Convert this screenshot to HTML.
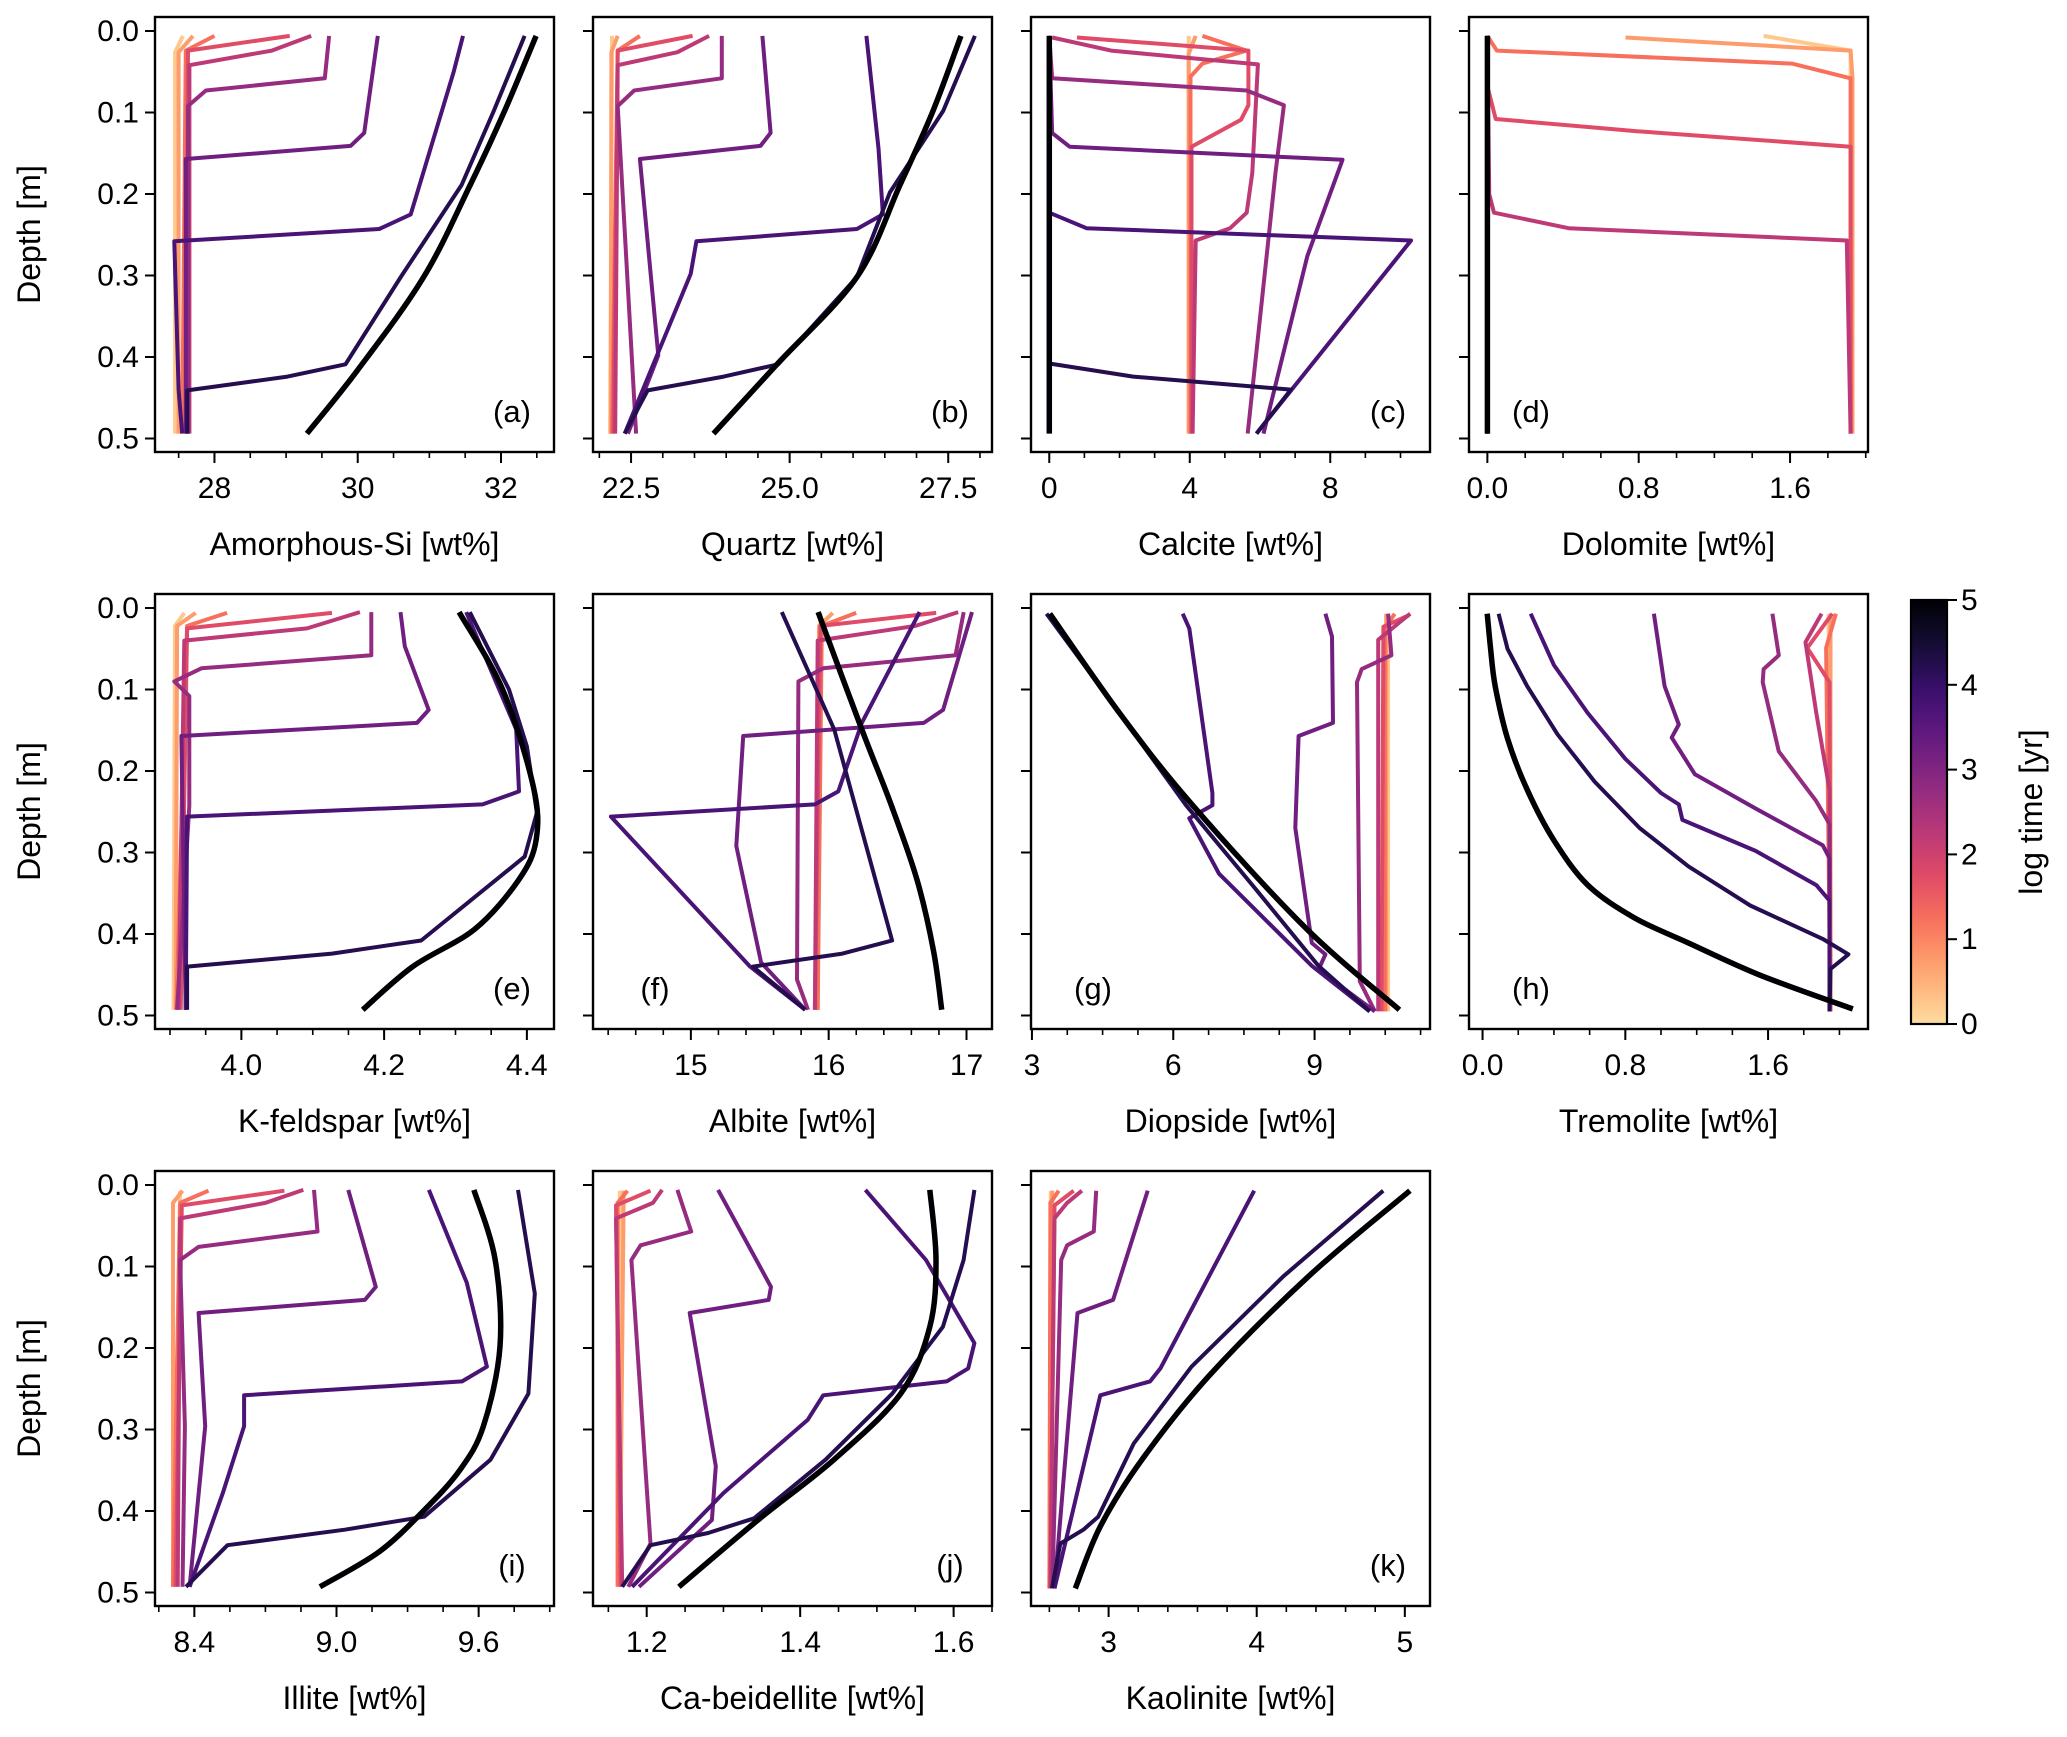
<!DOCTYPE html>
<html><head><meta charset="utf-8"><style>
html,body{margin:0;padding:0;background:#fff;}
svg text{font-family:"Liberation Sans",Arial,sans-serif;fill:#000;}
</style></head><body>
<svg id="fig" width="2067" height="1732" viewBox="0 0 2067 1732" xmlns="http://www.w3.org/2000/svg">
<defs>
<linearGradient id="cbgrad" x1="0" y1="1" x2="0" y2="0"></linearGradient>
</defs>
</svg>
<script>
// ---------- data ----------
const TIMES = [0.5,1,1.5,2,2.5,3,3.5,4,4.5,5];
const depthTicks = [0,0.1,0.2,0.3,0.4,0.5];
const depthTickLabels = ["0.0","0.1","0.2","0.3","0.4","0.5"];
const cbTicks = [0,1,2,3,4,5];

const curvesA = [
 [[27.56,0.006],[27.45,0.026],[27.45,0.494]],
 [[27.7,0.006],[27.5,0.026],[27.5,0.494]],
 [[28.0,0.006],[27.6,0.024],[27.55,0.494]],
 [[29.05,0.006],[27.63,0.024],[27.6,0.494]],
 [[29.35,0.006],[28.8,0.024],[27.65,0.042],[27.65,0.494]],
 [[29.6,0.006],[29.54,0.058],[27.88,0.073],[27.63,0.092],[27.63,0.494]],
 [[30.28,0.006],[30.09,0.125],[29.9,0.141],[27.6,0.157],[27.6,0.494]],
 [[31.47,0.006],[31.34,0.05],[30.74,0.225],[30.30,0.243],[27.44,0.258],[27.5,0.44],[27.55,0.494]],
 [[32.33,0.006],[31.9,0.098],[31.45,0.189],[30.6,0.302],[29.83,0.409],[29.02,0.424],[27.62,0.441],[27.62,0.494]],
 [[32.49,0.006],[32.05,0.098],[31.57,0.189],[30.92,0.302],[30.0,0.416],[29.29,0.494]]
];
const curvesB = [
 [[22.2,0.006],[22.17,0.494]],
 [[22.29,0.006],[22.19,0.026],[22.18,0.494]],
 [[22.64,0.006],[22.29,0.024],[22.2,0.494]],
 [[23.47,0.006],[22.29,0.024],[22.22,0.494]],
 [[23.73,0.006],[23.23,0.026],[22.29,0.042],[22.25,0.494]],
 [[23.93,0.006],[23.93,0.058],[22.55,0.073],[22.29,0.092],[22.58,0.494]],
 [[24.57,0.006],[24.70,0.125],[24.54,0.141],[22.64,0.157],[22.93,0.398],[22.45,0.494]],
 [[26.21,0.006],[26.4,0.144],[26.47,0.225],[26.06,0.243],[23.53,0.258],[23.44,0.298],[22.4,0.494]],
 [[27.92,0.006],[27.42,0.098],[26.58,0.198],[26.06,0.302],[24.82,0.409],[23.96,0.424],[22.76,0.441],[22.4,0.494]],
 [[27.7,0.006],[27.26,0.098],[26.74,0.189],[26.06,0.302],[24.8,0.409],[23.8,0.494]]
];
const curvesC = [
 [[3.97,0.006],[3.97,0.494]],
 [[4.17,0.006],[3.97,0.028],[3.97,0.494]],
 [[4.36,0.006],[5.62,0.024],[4.36,0.04],[4.02,0.056],[4.02,0.494]],
 [[0.79,0.008],[5.67,0.024],[5.67,0.091],[5.46,0.109],[4.05,0.142],[4.05,0.494]],
 [[0.08,0.008],[1.76,0.024],[5.94,0.041],[5.78,0.174],[5.62,0.223],[5.15,0.242],[4.17,0.257],[4.08,0.494]],
 [[0,0.006],[0.08,0.058],[5.62,0.073],[6.68,0.091],[6.44,0.174],[5.65,0.494]],
 [[0,0.006],[0.08,0.125],[0.58,0.142],[8.35,0.158],[7.35,0.276],[6.1,0.494]],
 [[0,0.006],[0,0.223],[1.06,0.242],[10.3,0.257],[5.9,0.494]],
 [[0,0.006],[0,0.408],[2.39,0.424],[6.88,0.44],[5.9,0.494]],
 [[0,0.006],[0,0.494]]
];
const curvesD = [
 [[1.46,0.006],[1.92,0.024],[1.92,0.06]],
 [[0.73,0.008],[1.92,0.024],[1.93,0.058],[1.93,0.494]],
 [[0,0.006],[0.05,0.024],[1.61,0.04],[1.92,0.058],[1.92,0.494]],
 [[0,0.006],[0,0.068],[0.044,0.108],[0.79,0.123],[1.92,0.142],[1.92,0.494]],
 [[0,0.006],[0.01,0.2],[0.035,0.223],[0.43,0.242],[1.9,0.257],[1.92,0.494]],
 [[0,0.006],[0,0.494]],
 [[0,0.006],[0,0.494]],
 [[0,0.006],[0,0.494]],
 [[0,0.006],[0,0.494]],
 [[0,0.006],[0,0.494]]
];
const curvesE = [
 [[3.92,0.006],[3.907,0.022],[3.905,0.493]],
 [[3.936,0.006],[3.91,0.022],[3.908,0.493]],
 [[3.98,0.006],[3.924,0.022],[3.909,0.493]],
 [[4.127,0.006],[3.924,0.025],[3.915,0.493]],
 [[4.166,0.005],[4.092,0.025],[3.92,0.04],[3.912,0.493]],
 [[4.182,0.005],[4.182,0.058],[3.944,0.074],[3.906,0.09],[3.927,0.108],[3.927,0.243],[3.91,0.493]],
 [[4.223,0.005],[4.229,0.047],[4.2625,0.125],[4.246,0.141],[3.916,0.157],[3.922,0.493]],
 [[4.315,0.005],[4.385,0.149],[4.389,0.225],[4.338,0.241],[3.924,0.256],[3.922,0.493]],
 [[4.32,0.005],[4.375,0.1],[4.4,0.17],[4.414,0.251],[4.397,0.305],[4.252,0.408],[4.127,0.424],[3.924,0.44],[3.924,0.493]],
 [[4.305,0.005],[4.366,0.1],[4.409,0.219],[4.413,0.284],[4.389,0.333],[4.327,0.394],[4.24,0.44],[4.17,0.493]]
];
const curvesF = [
 [[15.94,0.006],[15.915,0.493]],
 [[16.03,0.006],[15.93,0.022],[15.92,0.493]],
 [[16.2,0.006],[15.95,0.022],[15.92,0.493]],
 [[16.78,0.006],[15.94,0.022],[15.9,0.493]],
 [[16.94,0.005],[16.63,0.022],[15.92,0.04],[15.9,0.493]],
 [[16.98,0.005],[16.92,0.058],[15.96,0.074],[15.78,0.09],[15.77,0.456],[15.85,0.493]],
 [[17.04,0.005],[16.83,0.125],[16.69,0.141],[15.38,0.157],[15.33,0.292],[15.51,0.435],[15.83,0.493]],
 [[16.66,0.005],[16.24,0.141],[16.07,0.225],[15.9,0.241],[14.42,0.256],[15.43,0.44],[15.83,0.493]],
 [[15.66,0.005],[16.04,0.149],[16.46,0.408],[16.10,0.424],[15.45,0.44],[15.83,0.493]],
 [[15.923,0.005],[16.24,0.149],[16.45,0.24],[16.64,0.333],[16.76,0.42],[16.82,0.493]]
];
const curvesG = [
 [[10.56,0.007],[10.56,0.495]],
 [[10.52,0.007],[10.52,0.495]],
 [[10.7,0.007],[10.49,0.025],[10.49,0.495]],
 [[11.0,0.009],[10.46,0.023],[10.42,0.495]],
 [[11.03,0.007],[10.35,0.039],[10.35,0.495]],
 [[10.56,0.007],[10.63,0.058],[10.0,0.075],[9.9,0.091],[9.96,0.458],[10.28,0.495]],
 [[9.23,0.007],[9.37,0.035],[9.39,0.141],[8.66,0.157],[8.59,0.27],[8.94,0.411],[9.23,0.425],[9.08,0.444],[10.28,0.495]],
 [[6.2,0.007],[6.34,0.025],[6.83,0.227],[6.83,0.242],[6.34,0.258],[6.97,0.326],[8.94,0.439],[10.17,0.495]],
 [[3.31,0.007],[4.86,0.129],[6.27,0.242],[7.68,0.34],[9.08,0.439],[10.17,0.495]],
 [[3.38,0.007],[4.86,0.129],[6.41,0.242],[8.8,0.392],[10.8,0.493]]
];
const curvesH = [
 [[1.94,0.007],[1.944,0.495]],
 [[1.95,0.007],[1.95,0.495]],
 [[1.98,0.007],[1.925,0.049],[1.95,0.495]],
 [[1.96,0.007],[1.82,0.049],[1.944,0.091],[1.95,0.495]],
 [[1.9,0.007],[1.81,0.042],[1.87,0.129],[1.944,0.223],[1.944,0.495]],
 [[1.624,0.007],[1.66,0.058],[1.575,0.075],[1.57,0.091],[1.66,0.176],[1.87,0.237],[1.944,0.265],[1.944,0.495]],
 [[0.96,0.007],[1.02,0.096],[1.1,0.143],[1.06,0.159],[1.19,0.204],[1.53,0.246],[1.906,0.291],[1.944,0.307],[1.944,0.495]],
 [[0.27,0.007],[0.4,0.07],[0.59,0.129],[0.8,0.185],[1.0,0.227],[1.1,0.241],[1.12,0.26],[1.53,0.298],[1.87,0.34],[1.944,0.359],[1.944,0.495]],
 [[0.09,0.007],[0.14,0.05],[0.25,0.096],[0.42,0.155],[0.628,0.213],[0.88,0.27],[1.154,0.317],[1.5,0.365],[1.906,0.406],[2.05,0.425],[1.95,0.443],[1.944,0.495]],
 [[0.026,0.007],[0.045,0.05],[0.071,0.096],[0.14,0.16],[0.25,0.223],[0.4,0.285],[0.59,0.34],[0.85,0.38],[1.154,0.411],[1.55,0.45],[2.075,0.492]]
];
const curvesI = [
 [[8.34,0.007],[8.31,0.493]],
 [[8.35,0.007],[8.31,0.022],[8.31,0.493]],
 [[8.46,0.007],[8.34,0.022],[8.31,0.493]],
 [[8.78,0.007],[8.347,0.025],[8.32,0.493]],
 [[8.86,0.006],[8.7,0.022],[8.34,0.041],[8.33,0.493]],
 [[8.905,0.006],[8.92,0.057],[8.418,0.076],[8.34,0.092],[8.36,0.296],[8.35,0.493]],
 [[9.05,0.006],[9.166,0.125],[9.12,0.141],[8.418,0.157],[8.446,0.296],[8.38,0.493]],
 [[9.39,0.006],[9.55,0.12],[9.635,0.223],[9.53,0.241],[8.61,0.258],[8.61,0.296],[8.52,0.378],[8.38,0.493]],
 [[9.766,0.006],[9.837,0.133],[9.81,0.256],[9.65,0.337],[9.37,0.407],[9.035,0.423],[8.54,0.442],[8.365,0.493]],
 [[9.58,0.006],[9.67,0.092],[9.69,0.198],[9.62,0.296],[9.52,0.35],[9.37,0.399],[9.18,0.45],[8.93,0.493]]
];
const curvesJ = [
 [[1.165,0.007],[1.163,0.493]],
 [[1.17,0.007],[1.165,0.493]],
 [[1.175,0.007],[1.162,0.022],[1.162,0.493]],
 [[1.205,0.007],[1.16,0.025],[1.166,0.493]],
 [[1.22,0.006],[1.208,0.022],[1.16,0.041],[1.168,0.493]],
 [[1.24,0.006],[1.258,0.057],[1.192,0.074],[1.18,0.092],[1.205,0.44],[1.176,0.493]],
 [[1.293,0.006],[1.362,0.125],[1.359,0.141],[1.256,0.157],[1.29,0.345],[1.285,0.411],[1.19,0.493]],
 [[1.485,0.006],[1.564,0.092],[1.627,0.194],[1.619,0.225],[1.591,0.241],[1.43,0.258],[1.41,0.288],[1.30,0.378],[1.181,0.493]],
 [[1.627,0.006],[1.613,0.092],[1.586,0.174],[1.52,0.256],[1.433,0.337],[1.34,0.409],[1.28,0.427],[1.205,0.442],[1.168,0.493]],
 [[1.569,0.006],[1.577,0.092],[1.569,0.174],[1.531,0.256],[1.444,0.337],[1.345,0.411],[1.242,0.493]]
];
const curvesK = [
 [[2.61,0.007],[2.6,0.495]],
 [[2.62,0.007],[2.6,0.495]],
 [[2.663,0.007],[2.607,0.022],[2.6,0.495]],
 [[2.764,0.007],[2.635,0.025],[2.607,0.495]],
 [[2.82,0.007],[2.72,0.022],[2.635,0.041],[2.607,0.495]],
 [[2.916,0.007],[2.9,0.057],[2.72,0.074],[2.68,0.092],[2.62,0.495]],
 [[3.264,0.007],[3.03,0.141],[2.79,0.157],[2.635,0.495]],
 [[3.983,0.007],[3.35,0.225],[3.28,0.241],[2.944,0.258],[2.635,0.495]],
 [[4.854,0.007],[4.18,0.112],[3.56,0.223],[3.17,0.317],[2.93,0.407],[2.83,0.423],[2.674,0.44],[2.618,0.495]],
 [[5.034,0.007],[4.35,0.112],[3.674,0.235],[3.225,0.337],[2.944,0.419],[2.775,0.495]]
];

const ticksA=[28,30,32], labelsA=["28","30","32"];
const ticksB=[22.5,25,27.5], labelsB=["22.5","25.0","27.5"];
const ticksC=[0,4,8], labelsC=["0","4","8"];
const ticksD=[0,0.8,1.6], labelsD=["0.0","0.8","1.6"];
const ticksE=[4.0,4.2,4.4], labelsE=["4.0","4.2","4.4"];
const ticksF=[15,16,17], labelsF=["15","16","17"];
const ticksG=[3,6,9], labelsG=["3","6","9"];
const ticksH=[0,0.8,1.6], labelsH=["0.0","0.8","1.6"];
const ticksI=[8.4,9.0,9.6], labelsI=["8.4","9.0","9.6"];
const ticksJ=[1.2,1.4,1.6], labelsJ=["1.2","1.4","1.6"];
const ticksK=[3,4,5], labelsK=["3","4","5"];

// ---------- layout ----------
const PW=399, PH=435;
const colL=[155,593,1031,1469], rowT=[17,594,1171];
const panels=[
 {id:"a",c:0,r:0,x0:27.17,x1:32.74,mn:0.5,t:ticksA,l:labelsA,name:"Amorphous-Si [wt%]",cv:curvesA,lp:"r"},
 {id:"b",c:1,r:0,x0:21.9,x1:28.19,mn:0.5,t:ticksB,l:labelsB,name:"Quartz [wt%]",cv:curvesB,lp:"r"},
 {id:"c",c:2,r:0,x0:-0.52,x1:10.84,mn:1,t:ticksC,l:labelsC,name:"Calcite [wt%]",cv:curvesC,lp:"r"},
 {id:"d",c:3,r:0,x0:-0.097,x1:2.012,mn:0.2,t:ticksD,l:labelsD,name:"Dolomite [wt%]",cv:curvesD,lp:"l"},
 {id:"e",c:0,r:1,x0:3.879,x1:4.438,mn:0.05,t:ticksE,l:labelsE,name:"K-feldspar [wt%]",cv:curvesE,lp:"r"},
 {id:"f",c:1,r:1,x0:14.29,x1:17.185,mn:0.2,t:ticksF,l:labelsF,name:"Albite [wt%]",cv:curvesF,lp:"l"},
 {id:"g",c:2,r:1,x0:2.98,x1:11.45,mn:0.75,t:ticksG,l:labelsG,name:"Diopside [wt%]",cv:curvesG,lp:"l"},
 {id:"h",c:3,r:1,x0:-0.076,x1:2.16,mn:0.2,t:ticksH,l:labelsH,name:"Tremolite [wt%]",cv:curvesH,lp:"l"},
 {id:"i",c:0,r:2,x0:8.234,x1:9.918,mn:0.15,t:ticksI,l:labelsI,name:"Illite [wt%]",cv:curvesI,lp:"r"},
 {id:"j",c:1,r:2,x0:1.13,x1:1.65,mn:0.05,t:ticksJ,l:labelsJ,name:"Ca-beidellite [wt%]",cv:curvesJ,lp:"r"},
 {id:"k",c:2,r:2,x0:2.476,x1:5.17,mn:0.2,t:ticksK,l:labelsK,name:"Kaolinite [wt%]",cv:curvesK,lp:"r"}
];

const MAGMA=[[0,"#000004"],[0.1,"#140e36"],[0.2,"#3b0f70"],[0.3,"#641a80"],[0.4,"#8c2981"],[0.5,"#b73779"],[0.6,"#de4968"],[0.7,"#f7705c"],[0.8,"#fe9f6d"],[0.9,"#fecf92"],[1,"#fcfdbf"]];
function hex2rgb(h){return [1,3,5].map(i=>parseInt(h.substr(i,2),16));}
function magma(f){
 f=Math.max(0,Math.min(1,f));
 for(let i=1;i<MAGMA.length;i++){ if(f<=MAGMA[i][0]){const a=MAGMA[i-1],b=MAGMA[i];const u=(f-a[0])/(b[0]-a[0]);const ca=hex2rgb(a[1]),cb=hex2rgb(b[1]);return "rgb("+ca.map((v,k)=>Math.round(v+(cb[k]-v)*u)).join(",")+")";}}
 return MAGMA[MAGMA.length-1][1];
}
function tColor(t){return magma(0.93*(1-t/5));}
function lineColor(t){return t>=5?"#000004":magma(0.93*(1-t/5)+0.05);}

function smoothPath(P){
 let d="M"+P[0][0].toFixed(1)+","+P[0][1].toFixed(1);
 for(let i=0;i<P.length-1;i++){
  const p0=P[Math.max(0,i-1)],p1=P[i],p2=P[i+1],p3=P[Math.min(P.length-1,i+2)];
  const c1=[p1[0]+(p2[0]-p0[0])/6,p1[1]+(p2[1]-p0[1])/6];
  const c2=[p2[0]-(p3[0]-p1[0])/6,p2[1]-(p3[1]-p1[1])/6];
  d+=" C"+c1.map(v=>v.toFixed(1)).join(",")+" "+c2.map(v=>v.toFixed(1)).join(",")+" "+p2.map(v=>v.toFixed(1)).join(",");
 }
 return d;
}

const NS="http://www.w3.org/2000/svg";
const svg=document.getElementById("fig");
function mk(tag,attrs,parent){const e=document.createElementNS(NS,tag);for(const k in attrs)e.setAttribute(k,attrs[k]);(parent||svg).appendChild(e);return e;}

panels.forEach(p=>{
 const L=colL[p.c], T=rowT[p.r];
 const xs=v=>L+(v-p.x0)/(p.x1-p.x0)*PW;
 const ys=d=>T+14+d/0.5*407.5;
 const g=mk("g",{});
 
 
 const clipId="clip"+p.id;
 const cp=mk("clipPath",{id:clipId},g); mk("rect",{x:L,y:T,width:PW,height:PH},cp);
 const lines=mk("g",{"clip-path":"url(#"+clipId+")"},g);
 
 
 p.cv.forEach((pts,i)=>{
  const t=TIMES[i];
  const P=pts.map(q=>[xs(q[0]),ys(q[1])]);
  let el;
  if(t>=5 && P.length>2){
   el=mk("path",{d:smoothPath(P),fill:"none",stroke:lineColor(t),"stroke-width":5.5,"stroke-linejoin":"round"},lines);
  } else {
   el=mk("polyline",{points:P.map(q=>q[0].toFixed(1)+","+q[1].toFixed(1)).join(" "),fill:"none",stroke:lineColor(t),"stroke-width":t>=5?5.5:4,"stroke-linejoin":"round","stroke-linecap":"butt"},lines);
  }
  
  
 });
 const fr=mk("rect",{x:L,y:T,width:PW,height:PH,fill:"none",stroke:"#000","stroke-width":2.4},g);
 
 
 depthTicks.forEach((d,i)=>{
  mk("line",{x1:L-10,x2:L,y1:ys(d),y2:ys(d),stroke:"#000","stroke-width":2},g);
  if(p.c===0){const tx=mk("text",{x:L-16,y:ys(d)+10,"text-anchor":"end","font-size":30},g);tx.textContent=depthTickLabels[i];
   
   }
 });
 const start=Math.ceil((p.x0-1e-9)/p.mn);
 for(let k=start;k*p.mn<=p.x1+1e-9;k++){const v=k*p.mn;const X=xs(v);
  mk("line",{x1:X,x2:X,y1:T+PH,y2:T+PH+6,stroke:"#000","stroke-width":1.6},g);}
 p.t.forEach((v,i)=>{const X=xs(v);
  mk("line",{x1:X,x2:X,y1:T+PH,y2:T+PH+11,stroke:"#000","stroke-width":2},g);
  const tx=mk("text",{x:X,y:T+PH+46,"text-anchor":"middle","font-size":30},g);tx.textContent=p.l[i];
  
  
 });
 const xl=mk("text",{x:L+PW/2,y:T+PH+103,"text-anchor":"middle","font-size":32},g);xl.textContent=p.name;
 
 
 const lb=mk("text",{x:p.lp==="r"?L+PW-42:L+62,y:T+405,"text-anchor":"middle","font-size":31},g);lb.textContent="("+p.id+")";
 
 
 if(p.c===0){const yl=mk("text",{x:0,y:0,"text-anchor":"middle","font-size":32,transform:"translate(40,"+(T+PH/2)+") rotate(-90)"},g);yl.textContent="Depth [m]";
  
  }
});

// colorbar
const grad=document.getElementById("cbgrad");
for(let i=0;i<=20;i++){const f=i/20;mk("stop",{offset:f,"stop-color":tColor(f*5)},grad);}
const cbX=1911,cbY=600,cbW=36,cbH=424;
const cbg=mk("g",{});


mk("rect",{x:cbX,y:cbY,width:cbW,height:cbH,fill:"url(#cbgrad)",stroke:"#000","stroke-width":2.2},cbg);
cbTicks.forEach(v=>{const Y=cbY+cbH-(v/5)*cbH;
 mk("line",{x1:cbX+cbW,x2:cbX+cbW+10,y1:Y,y2:Y,stroke:"#000","stroke-width":2},cbg);
 const tx=mk("text",{x:cbX+cbW+14,y:Y+10,"font-size":30},cbg);tx.textContent=String(v);
 
 
});
const cbl=mk("text",{x:0,y:0,"text-anchor":"middle","font-size":32,transform:"translate(2042,"+(cbY+cbH/2)+") rotate(-90)"},cbg);cbl.textContent="log time [yr]";


</script>
</body></html>
